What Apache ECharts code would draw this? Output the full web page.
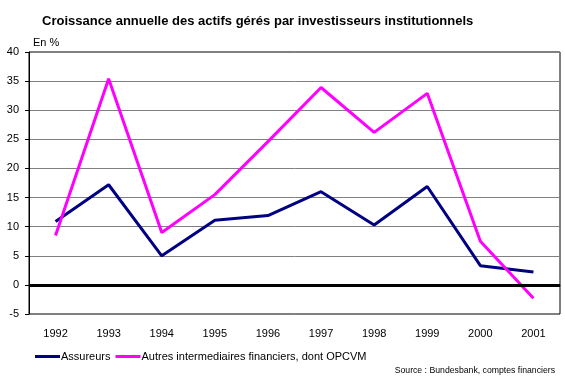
<!DOCTYPE html>
<html><head><meta charset="utf-8">
<script src="https://cdn.jsdelivr.net/npm/echarts@6/dist/echarts.min.js"></script>
<style>html,body{margin:0;padding:0;background:#fff}#c{width:565px;height:384px}</style>
</head><body><div id="c"></div>
<script>
const years = ['1992','1993','1994','1995','1996','1997','1998','1999','2000','2001'];
const assureurs = [10.9, 17.2, 5.0, 11.1, 11.9, 16.0, 10.3, 16.9, 3.3, 2.2];
const autres = [8.5, 35.4, 9.0, 15.5, 24.6, 33.9, 26.2, 32.9, 7.5, -2.3];
const seriesNames = ['Assureurs', 'Autres intermediaires financiers, dont OPCVM'];
const FONT = '"Liberation Sans", Arial, sans-serif';
const chart = echarts.init(document.getElementById('c'), null, {renderer: 'canvas'});
chart.setOption({
  animation: false,
  backgroundColor: '#fff',
  textStyle: {fontFamily: FONT},
  title: {
    text: 'Croissance annuelle des actifs gérés par investisseurs institutionnels',
    left: 37, top: 10,
    textStyle: {fontFamily: FONT, fontSize: 13, fontWeight: 'bold', color: '#000'}
  },
  graphic: [
    {type: 'text', left: 33, top: 37, style: {text: 'En %', font: '11px ' + FONT, fill: '#000'}},
    {type: 'text', right: 10, top: 366, style: {text: 'Source : Bundesbank, comptes financiers', font: '8.7px ' + FONT, fill: '#000'}}
  ],
  legend: {
    left: 30, top: 346,
    itemWidth: 25, itemHeight: 3, itemGap: 5,
    icon: 'rect',
    textStyle: {fontFamily: FONT, fontSize: 11, color: '#000', padding: [0, 0, 0, -4]},
    data: seriesNames
  },
  grid: {left: 29, right: 5, top: 52, bottom: 70, show: true, borderColor: '#000', borderWidth: 1},
  xAxis: {
    type: 'category', data: years, boundaryGap: true,
    axisLine: {show: true, lineStyle: {color: '#000', width: 1}},
    axisTick: {show: false},
    axisLabel: {color: '#000', fontSize: 11, fontFamily: FONT, margin: 14}
  },
  yAxis: {
    type: 'value', min: -5, max: 40, interval: 5,
    axisLine: {show: true, lineStyle: {color: '#000', width: 1}},
    axisTick: {show: true, length: 4, lineStyle: {color: '#000'}},
    axisLabel: {color: '#000', fontSize: 11, fontFamily: FONT, margin: 10},
    splitLine: {show: true, lineStyle: {color: '#808080', width: 1}}
  },
  series: [
    {name: seriesNames[0], type: 'line', data: assureurs, symbol: 'none',
     lineStyle: {color: '#000080', width: 3}, itemStyle: {color: '#000080'},
     markLine: {silent: true, symbol: 'none', label: {show: false},
       lineStyle: {color: '#000', width: 3, type: 'solid'}, data: [{yAxis: 0}]}, z: 3},
    {name: seriesNames[1], type: 'line', data: autres, symbol: 'none',
     lineStyle: {color: '#FF00FF', width: 3}, itemStyle: {color: '#FF00FF'}, z: 4}
  ]
});
</script></body></html>
